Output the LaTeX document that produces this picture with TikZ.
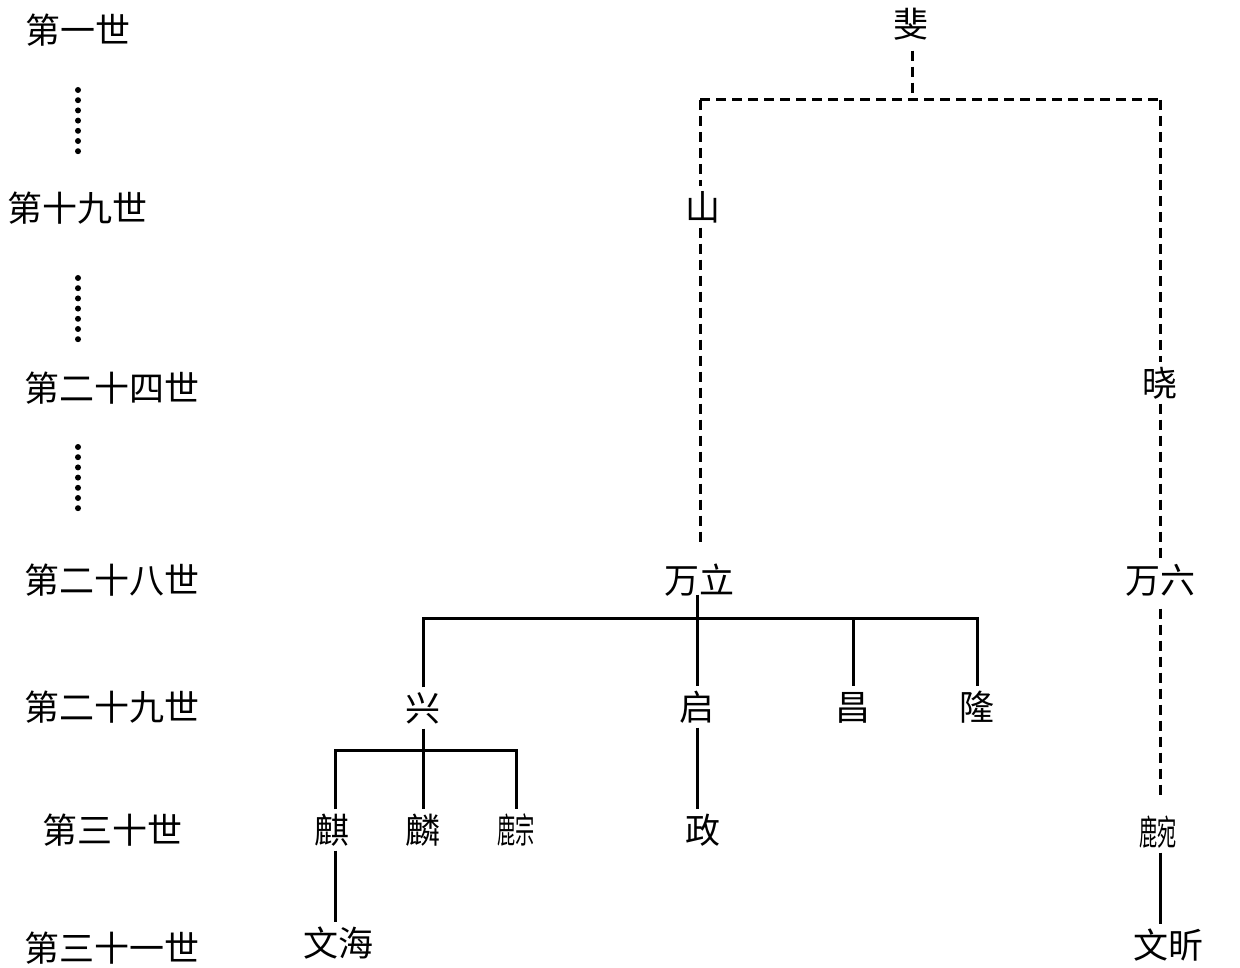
\documentclass[tikz,border=0pt]{standalone}
\usepackage{fontspec}
\usepackage{graphicx}
\newfontfamily\cjk{Noto Sans CJK SC}
\newcommand{\lr}[2]{\hbox{\scalebox{0.52}[1]{#1}\scalebox{0.55}[1]{#2}}}
\tikzset{
  nm/.style={font=\cjk\fontsize{35}{40}\selectfont, inner sep=4pt, text height=30pt, text depth=3pt},
  gen/.style={font=\cjk\fontsize{35}{40}\selectfont, inner sep=0pt, text height=30pt, text depth=3pt},
  ln/.style={line width=3pt},
  dl/.style={line width=3pt, dash pattern=on 10pt off 6pt},
  dot/.style={circle, fill=black, inner sep=0pt, minimum size=6pt}
}
\begin{document}
\begin{tikzpicture}[x=1pt,y=-1pt]
\useasboundingbox[fill=white] (0,0) rectangle (1240,968);
% generation labels
\node[gen] (g1) at (78,30) {第一世};
\node[gen] (g19) at (78,208) {第十九世};
\node[gen] (g24) at (112,388) {第二十四世};
\node[gen] (g28) at (112,580) {第二十八世};
\node[gen] (g29) at (112,707) {第二十九世};
\node[gen] (g30) at (112,830) {第三十世};
\node[gen] (g31) at (112,948) {第三十一世};
\foreach \s/\n in {90/a,278/b,447/c}{
  \foreach \i in {0,...,6}{
    \node[dot] (d\n\i) at (78,\s+\i*10.2) {};
  }
}
% names
\node[nm] (fei) at (911,24) {斐};
\node[nm] (shan) at (703,207) {山};
\node[nm] (xiao) at (1160,383) {晓};
\node[nm] (wanli) at (699,580) {万立};
\node[nm] (wanliu) at (1160,580) {万六};
\node[nm] (xing) at (423,708) {兴};
\node[nm] (qi) at (697,707) {启};
\node[nm] (chang) at (853,707) {昌};
\node[nm] (long) at (977,707) {隆};
\node[nm] (qilin) at (332,830) {麒};
\node[nm] (lin) at (423,830) {麟};
\node[nm] (zong) at (516,830) {\lr{鹿}{宗}};
\node[nm] (zheng) at (703,830) {政};
\node[nm] (wan) at (1158,832) {\lr{鹿}{宛}};
\node[nm] (wenhai) at (338,943) {文海};
\node[nm] (wenxin) at (1168,945) {文昕};
% dashed upper lines
\coordinate (tl) at (700,100);
\coordinate (tr) at (1160,100);
\coordinate (tm) at (912,100);
\draw[dl] ([yshift=-6pt]fei.south -| tm) -- (tm);
\draw[dl] (tl) -- (tr);
\draw[dl] (tl) -- (tl |- shan.north);
\draw[dl] (tl |- shan.south) -- ([yshift=12pt]tl |- wanli.north);
\draw[dl] (tr) -- (xiao.north);
\draw[dl] (xiao.south) -- (wanliu.north);
\draw[dl] ([yshift=-8pt]wanliu.south) -- ([yshift=12pt]wanliu.south |- wan.north);
% solid lines
\coordinate (bar) at (0,618);
\draw[ln] ([yshift=6pt]wanli.south -| qi) -- (qi.north);
\draw[ln] (xing.north) -- (xing.north |- bar) -- (long.north |- bar) -- (long.north);
\draw[ln] (chang.north |- bar) -- (chang.north);
\draw[ln] (qi.south) -- (qi.south |- zheng.north);
\coordinate (bar2) at (0,750);
\draw[ln] (xing.south) -- (xing.south |- lin.north);
\draw[ln] (qilin.north -| 335,0) -- (335,750) -- (zong.north |- bar2) -- (zong.north);
\draw[ln] (qilin.south -| 335,0) -- (wenhai.north -| 335,0);
\draw[ln] (wan.south -| 1160,0) -- (wenxin.north -| 1160,0);
\end{tikzpicture}
\end{document}
